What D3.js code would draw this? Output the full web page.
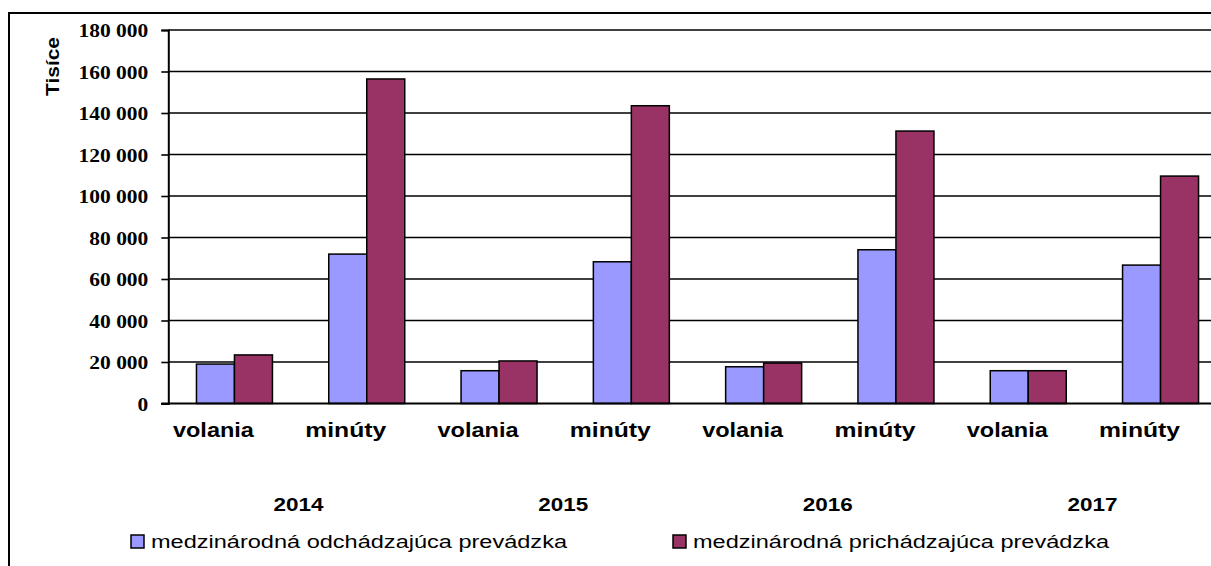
<!DOCTYPE html>
<html>
<head>
<meta charset="utf-8">
<script src="https://cdn.jsdelivr.net/npm/d3@7"></script>
<style>
  html, body { margin: 0; padding: 0; background: #fff; overflow: hidden; }
  svg { display: block; }
</style>
</head>
<body>
<svg id="chart" width="1211" height="566"></svg>
<script>
// ---- data ----
const categories = ["volania", "minúty", "volania", "minúty", "volania", "minúty", "volania", "minúty"];
const years = ["2014", "2015", "2016", "2017"];
const seriesNames = ["medzinárodná odchádzajúca prevádzka", "medzinárodná prichádzajúca prevádzka"];
const outgoing = [19000, 72000, 15800, 68300, 17700, 74100, 15800, 66700];
const incoming = [23400, 156400, 20500, 143500, 19500, 131300, 15800, 109600];
const yTicks = [0, 20000, 40000, 60000, 80000, 100000, 120000, 140000, 160000, 180000];
const yLabel = "Tisíce";

// ---- layout ----
const W = 1211, H = 566;
const plot = { left: 168.3, top: 30, right: 1226.7, bottom: 403.5 };
const colors = ["#9999FF", "#993366"];
const SANS = "Liberation Sans, Arial, sans-serif";
const SERIF = "Liberation Serif, Times New Roman, serif";

const svg = d3.select("#chart");

// outer frame (right/bottom edges fall outside the picture)
svg.append("rect")
  .attr("x", 9).attr("y", 13)
  .attr("width", 1240).attr("height", 600)
  .attr("fill", "#fff").attr("stroke", "#000").attr("stroke-width", 2);

const x = d3.scaleBand()
  .domain(d3.range(categories.length))
  .range([plot.left, plot.right])
  .paddingInner(0.4256).paddingOuter(0.2128);
const xs = d3.scaleBand().domain([0, 1]).range([0, x.bandwidth()]);
const y = d3.scaleLinear().domain([0, 180000]).range([plot.bottom, plot.top]);

// gridlines
svg.append("g").selectAll("line").data(yTicks.filter(d => d > 0)).join("line")
  .attr("x1", plot.left).attr("x2", W + 20)
  .attr("y1", d => y(d)).attr("y2", d => y(d))
  .attr("stroke", "#000").attr("stroke-width", 1.6);

// y axis
const yAxis = d3.axisLeft(y).tickValues(yTicks).tickSize(7).tickPadding(13)
  .tickFormat(d => d3.format(",")(d).replace(/,/g, " "));
const gy = svg.append("g").attr("transform", `translate(${plot.left},0)`).call(yAxis);
gy.select(".domain").attr("stroke", "#000").attr("stroke-width", 2);
gy.selectAll(".tick line").attr("stroke", "#000").attr("stroke-width", 1.6);
gy.selectAll(".tick text")
  .style("font-family", SERIF)
  .style("font-weight", "bold")
  .style("font-size", "18.5px")
  .attr("fill", "#000")
  .attr("dy", "0.36em")
  .each(function () {
    const len = this.getComputedTextLength();
    d3.select(this).attr("textLength", len * 1.16).attr("lengthAdjust", "spacingAndGlyphs");
  });

// bars
const series = [outgoing, incoming];
series.forEach((vals, si) => {
  svg.append("g").selectAll("rect").data(vals).join("rect")
    .attr("x", (d, i) => x(i) + xs(si))
    .attr("y", d => y(d))
    .attr("width", xs.bandwidth())
    .attr("height", d => y(0) - y(d))
    .attr("fill", colors[si])
    .attr("stroke", "#000").attr("stroke-width", 1.5);
});

// x axis line
svg.append("line")
  .attr("x1", plot.left - 7).attr("x2", W + 20)
  .attr("y1", plot.bottom).attr("y2", plot.bottom)
  .attr("stroke", "#000").attr("stroke-width", 2.2);

// category labels
svg.append("g").selectAll("text").data(categories).join("text")
  .attr("x", (d, i) => x(i) + x.bandwidth() / 2 - 21)
  .attr("y", 437)
  .attr("text-anchor", "middle")
  .style("font-family", SANS).style("font-weight", "bold").style("font-size", "21px")
  .attr("fill", "#000")
  .text(d => d)
  .attr("textLength", 81).attr("lengthAdjust", "spacingAndGlyphs");

// year labels (centered between each pair of categories)
svg.append("g").selectAll("text").data(years).join("text")
  .attr("x", (d, i) => (x(2 * i) + x(2 * i + 1) + x.bandwidth()) / 2 - 2)
  .attr("y", 510.5)
  .attr("text-anchor", "middle")
  .style("font-family", SANS).style("font-weight", "bold").style("font-size", "19px")
  .attr("fill", "#000")
  .text(d => d)
  .attr("textLength", 50).attr("lengthAdjust", "spacingAndGlyphs");

// y axis title
svg.append("text")
  .attr("transform", "translate(59,66.5) rotate(-90)")
  .attr("text-anchor", "middle")
  .style("font-family", SANS).style("font-weight", "bold").style("font-size", "19px")
  .attr("fill", "#000")
  .text(yLabel)
  .attr("textLength", 59).attr("lengthAdjust", "spacingAndGlyphs");

// legend
const legendX = [131, 673];
const lg = svg.append("g").selectAll("g").data(seriesNames).join("g")
  .attr("transform", (d, i) => `translate(${legendX[i]},535)`);
lg.append("rect").attr("x", 0).attr("y", 0).attr("width", 13).attr("height", 13)
  .attr("fill", (d, i) => colors[i]).attr("stroke", "#000").attr("stroke-width", 1.5);
lg.append("text").attr("x", 20).attr("y", 13)
  .style("font-family", SANS).style("font-size", "17.5px")
  .attr("fill", "#000")
  .text(d => d)
  .attr("textLength", 416).attr("lengthAdjust", "spacingAndGlyphs");
</script>
</body>
</html>
